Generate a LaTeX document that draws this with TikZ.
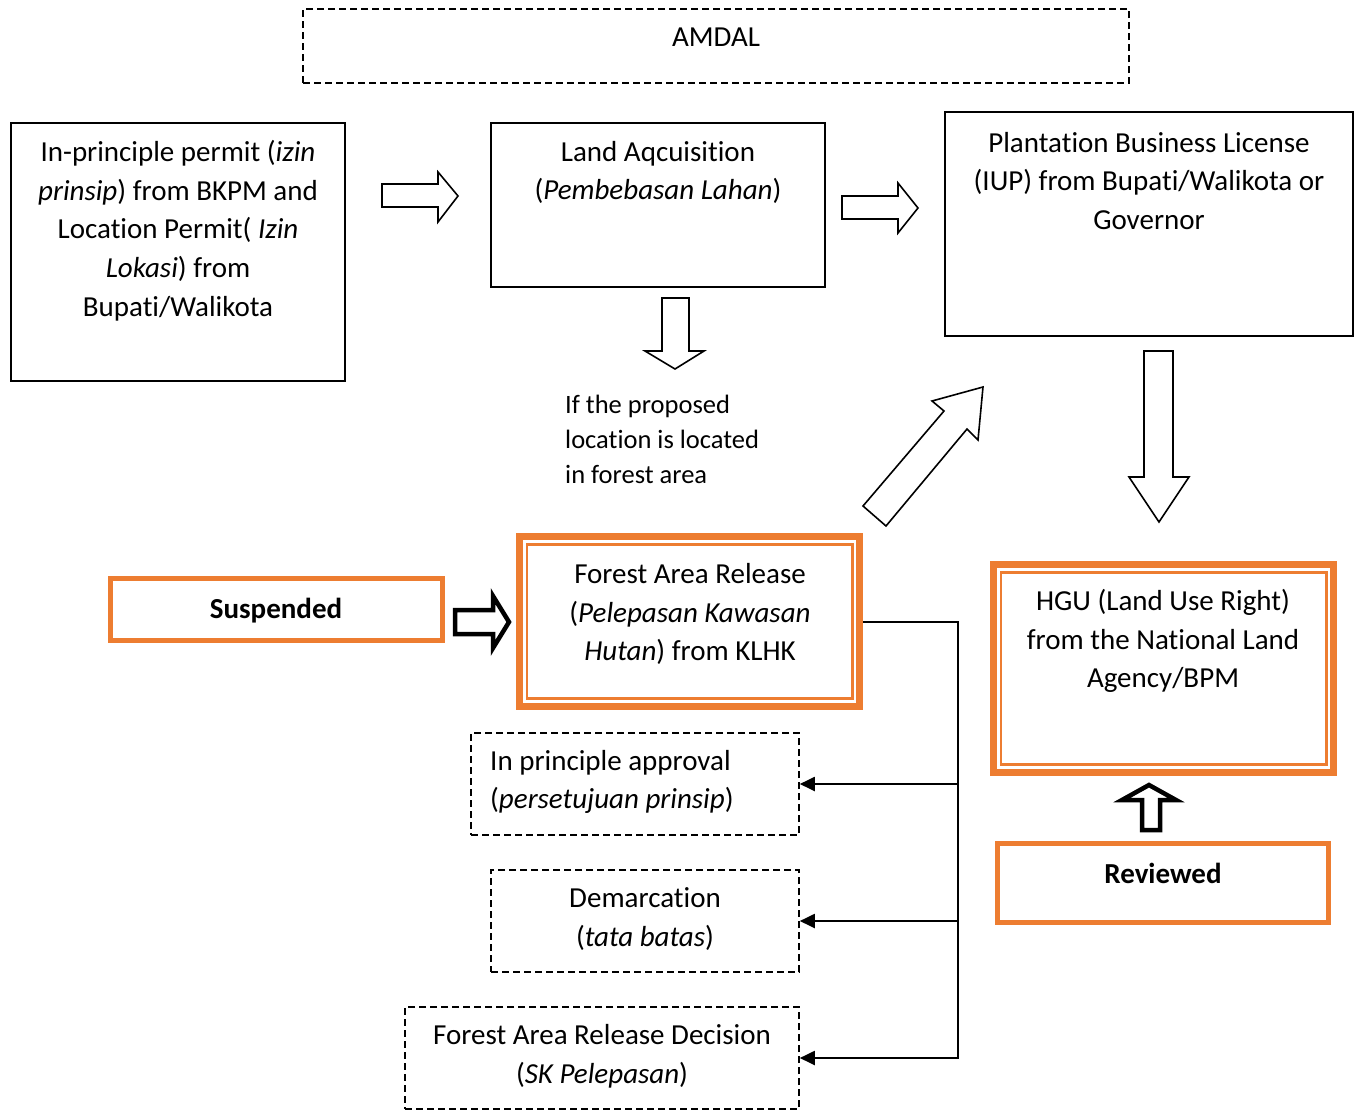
\documentclass[tikz,border=0pt]{standalone}
\usepackage{fontspec}
\setmainfont[Ligatures=NoCommon]{Carlito}
\usetikzlibrary{arrows.meta}
\definecolor{org}{HTML}{ED7D31}
\newcommand{\fsmain}{\fontsize{29}{38.7}\selectfont}
\newcommand{\fssmall}{\fontsize{26.5}{35}\selectfont}
\begin{document}
\begin{tikzpicture}[x=1pt,y=-1pt,
  box/.style={draw=black,line width=2pt,inner sep=0pt,rectangle},
  dbox/.style={draw=black,line width=1.6pt,dash pattern=on 7pt off 4pt,inner sep=0pt,rectangle},
  obox/.style={draw=org,line width=5pt,inner sep=0pt,rectangle},
  oouter/.style={draw=org,line width=7pt,inner sep=0pt,rectangle},
  oinner/.style={draw=org,line width=2.5pt,inner sep=0pt,rectangle},
  txt/.style={font=\fsmain,align=center,inner sep=0pt},
  btxt/.style={font=\fsmain\bfseries,inner sep=0pt},
  blockarrow/.style={draw=black,line width=1.6pt,fill=white,line join=miter},
  thickarrow/.style={draw=black,line width=4.5pt,fill=white,line join=miter},
  conn/.style={draw=black,line width=2pt},
  arr/.style={conn,-{Triangle[length=15pt,width=14pt]}}]
\useasboundingbox[fill=white] (0,0) rectangle (1358,1111);

% boxes
\node[dbox,minimum width=826,minimum height=74] (amdal) at (716,46) {};
\node[box,minimum width=334,minimum height=258] (ipp) at (178,252) {};
\node[box,minimum width=334,minimum height=164] (land) at (658,205) {};
\node[box,minimum width=408,minimum height=224] (iup) at (1149,224) {};
\node[dbox,minimum width=328,minimum height=102] (ip) at (635,784) {};
\node[dbox,minimum width=308,minimum height=102] (dem) at (645,921) {};
\node[dbox,minimum width=394,minimum height=102] (sk) at (602,1058) {};
\node[oouter,minimum width=340,minimum height=170] (fr) at (689.5,621.5) {};
\node[oinner,minimum width=325.5,minimum height=154] (frin) at (689.75,621.5) {};
\node[oouter,minimum width=340,minimum height=208] (hgu) at (1163.5,668.5) {};
\node[oinner,minimum width=325.5,minimum height=192] (hguin) at (1163.5,668.5) {};
\node[obox,minimum width=332,minimum height=62] (susp) at (276.5,609.5) {};
\node[obox,minimum width=331,minimum height=79] (rev) at (1163,883) {};

% texts
\node[txt] (tamdal) at (716,37) {AMDAL};
\node[txt] (tipp) at (178,230.5) {In-principle permit (\textit{izin}\\\textit{prinsip}) from BKPM and\\Location Permit( \textit{Izin}\\\textit{Lokasi}) from\\Bupati/Walikota};
\node[txt] (tland) at (658,172.5) {Land Aqcuisition\\(\textit{Pembebasan Lahan})};
\node[txt] (tiup) at (1149,181) {Plantation Business License\\(IUP) from Bupati/Walikota or\\Governor};
\node[font=\fssmall,align=left,inner sep=0pt,anchor=west] (tif) at (565,439) {If the proposed\\location is located\\in forest area};
\node[txt] (tfr) at (690,614) {Forest Area Release\\(\textit{Pelepasan Kawasan}\\\textit{Hutan}) from KLHK};
\node[txt] (thgu) at (1163,641) {HGU (Land Use Right)\\from the National Land\\Agency/BPM};
\node[txt,align=left,anchor=west] (tip) at (490,782) {In principle approval\\(\textit{persetujuan prinsip})};
\node[txt] (tdem) at (645,919) {Demarcation\\(\textit{tata batas})};
\node[txt] (tsk) at (602,1056.5) {Forest Area Release Decision\\(\textit{SK Pelepasan})};
\node[btxt] (tsusp) at (276,610.5) {Suspended};
\node[btxt] (trev) at (1163,873) {Reviewed};

% block arrows
\draw[blockarrow] (382,184) -- (438,184) -- (438,172) -- (458,196) -- (438,222) -- (438,207) -- (382,207) -- cycle;
\draw[blockarrow] (842,196) -- (898,196) -- (898,183) -- (918,208) -- (898,233) -- (898,219) -- (842,219) -- cycle;
\draw[blockarrow] (662,298) -- (689,298) -- (689,351) -- (704,351) -- (675,369) -- (645,351) -- (662,351) -- cycle;
\draw[blockarrow] (1144,351) -- (1173,351) -- (1173,477) -- (1189,477) -- (1159,522) -- (1129,477) -- (1144,477) -- cycle;
\draw[blockarrow] (863,506) -- (944,411) -- (932,401) -- (983,387) -- (978,440) -- (967,429) -- (886,526) -- cycle;
\draw[thickarrow] (455,610) -- (493,610) -- (493,596) -- (509,622) -- (493,648) -- (493,634) -- (455,634) -- cycle;
\draw[thickarrow] (1149,785) -- (1176,800) -- (1160,800) -- (1160,830) -- (1142,830) -- (1142,800) -- (1122,800) -- cycle;

% connectors
\coordinate (bus) at (958,0);
\draw[arr] (fr.east) -| (bus |- sk.east) -- (sk.east);
\draw[arr] (bus |- ip.east) -- (ip.east);
\draw[arr] (bus |- dem.east) -- (dem.east);
\end{tikzpicture}
\end{document}
